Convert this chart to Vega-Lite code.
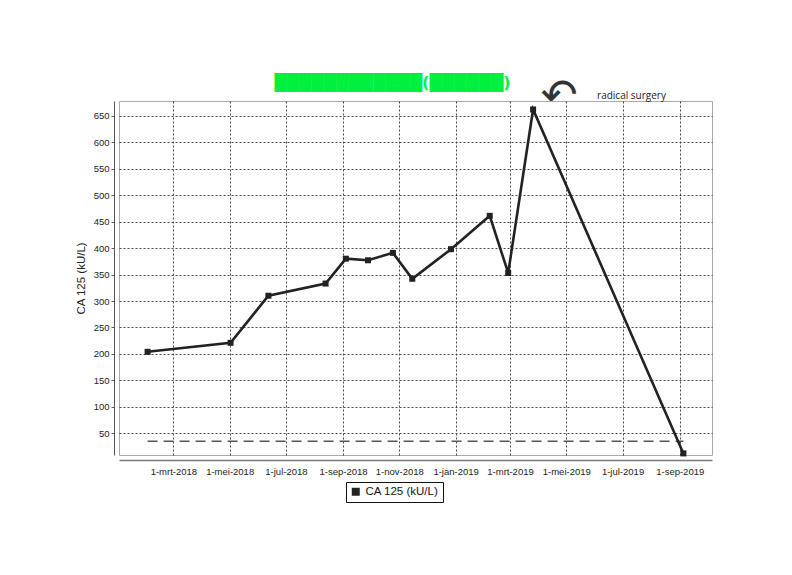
{
  "$schema": "https://vega.github.io/schema/vega-lite/v6.json",
  "width": 593,
  "height": 354,
  "autosize": {"type": "none"},
  "padding": {"left": 119, "top": 101, "right": 80, "bottom": 120},
  "background": "white",
  "title": {
    "text": "████████████(██████)",
    "color": "#00f040",
    "font": "DejaVu Sans",
    "fontSize": 16,
    "anchor": "middle",
    "dx": -23,
    "offset": -16,
    "frame": "group"
  },
  "datasets": {
    "ca125": [
      {"date": "2018-02-01", "value": 204, "series": "CA 125 (kU/L)"},
      {"date": "2018-05-02", "value": 221, "series": "CA 125 (kU/L)"},
      {"date": "2018-06-12", "value": 310, "series": "CA 125 (kU/L)"},
      {"date": "2018-08-13", "value": 333, "series": "CA 125 (kU/L)"},
      {"date": "2018-09-04", "value": 380, "series": "CA 125 (kU/L)"},
      {"date": "2018-09-28", "value": 377, "series": "CA 125 (kU/L)"},
      {"date": "2018-10-25", "value": 391, "series": "CA 125 (kU/L)"},
      {"date": "2018-11-15", "value": 342, "series": "CA 125 (kU/L)"},
      {"date": "2018-12-27", "value": 398, "series": "CA 125 (kU/L)"},
      {"date": "2019-02-07", "value": 461, "series": "CA 125 (kU/L)"},
      {"date": "2019-02-27", "value": 353, "series": "CA 125 (kU/L)"},
      {"date": "2019-03-26", "value": 662, "series": "CA 125 (kU/L)"},
      {"date": "2019-09-05", "value": 12, "series": "CA 125 (kU/L)"}
    ],
    "reference": [
      {"date": "2018-02-01", "value": 35},
      {"date": "2019-09-05", "value": 35}
    ],
    "notes": [
      {"date": "2019-03-26", "value": 662, "note": "radical surgery", "arrow": "↶"}
    ]
  },
  "encoding": {
    "x": {
      "field": "date",
      "type": "temporal",
      "scale": {
        "type": "utc",
        "domain": [
          {"year": 2018, "month": "jan", "date": 1, "utc": true},
          {"year": 2019, "month": "oct", "date": 6, "utc": true}
        ],
        "nice": false
      },
      "axis": {
        "title": null,
        "values": [
          {"year": 2018, "month": "mar", "date": 1, "utc": true},
          {"year": 2018, "month": "may", "date": 1, "utc": true},
          {"year": 2018, "month": "jul", "date": 1, "utc": true},
          {"year": 2018, "month": "sep", "date": 1, "utc": true},
          {"year": 2018, "month": "nov", "date": 1, "utc": true},
          {"year": 2019, "month": "jan", "date": 1, "utc": true},
          {"year": 2019, "month": "mar", "date": 1, "utc": true},
          {"year": 2019, "month": "may", "date": 1, "utc": true},
          {"year": 2019, "month": "jul", "date": 1, "utc": true},
          {"year": 2019, "month": "sep", "date": 1, "utc": true}
        ],
        "labelExpr": "utcdate(datum.value) + '-' + ['jan','feb','mrt','apr','mei','jun','jul','aug','sep','okt','nov','dec'][utcmonth(datum.value)] + '-' + utcyear(datum.value)",
        "offset": 5,
        "ticks": false,
        "labelPadding": 6,
        "domainColor": "#777",
        "domainWidth": 1.5,
        "labelFontSize": 9.5,
        "labelOverlap": false,
        "grid": true
      }
    },
    "y": {
      "field": "value",
      "type": "quantitative",
      "scale": {"domain": [9, 678], "nice": false, "zero": false},
      "axis": {
        "title": "CA 125 (kU/L)",
        "values": [50, 100, 150, 200, 250, 300, 350, 400, 450, 500, 550, 600, 650],
        "offset": 5,
        "tickSize": 3,
        "labelPadding": 2,
        "titlePadding": 7,
        "titleFontSize": 11.5,
        "titleFontWeight": "normal",
        "labelFontSize": 9.5,
        "domainColor": "#555",
        "tickColor": "#555",
        "grid": true
      }
    }
  },
  "layer": [
    {
      "data": {"name": "reference"},
      "mark": {"type": "line", "color": "#555", "strokeWidth": 1.3, "strokeDash": [10, 6]}
    },
    {
      "data": {"name": "ca125"},
      "mark": {"type": "line", "color": "#222", "strokeWidth": 2.6}
    },
    {
      "data": {"name": "ca125"},
      "mark": {"type": "point", "shape": "square", "filled": true, "size": 36, "opacity": 1},
      "encoding": {
        "color": {
          "field": "series",
          "type": "nominal",
          "scale": {"range": ["#222"]},
          "legend": {
            "title": null,
            "orient": "none",
            "legendX": 227,
            "legendY": 381,
            "symbolType": "square",
            "symbolSize": 64,
            "symbolOpacity": 1,
            "labelFontSize": 11.5,
            "labelFont": "Liberation Sans",
            "labelColor": "#111",
            "strokeColor": "#111",
            "padding": 4,
            "labelOffset": 4
          }
        }
      }
    },
    {
      "data": {"name": "notes"},
      "mark": {"type": "text", "align": "left", "baseline": "middle", "dx": 64, "dy": -13, "font": "Open Sans", "fontSize": 10, "color": "#222"},
      "encoding": {"text": {"field": "note"}}
    },
    {
      "data": {"name": "notes"},
      "mark": {"type": "text", "align": "center", "baseline": "middle", "dx": 26, "dy": -12, "font": "DejaVu Sans", "fontSize": 44, "color": "#333"},
      "encoding": {"text": {"field": "arrow"}}
    }
  ],
  "config": {
    "font": "Liberation Sans",
    "view": {"stroke": "#aaa", "strokeWidth": 1},
    "axis": {
      "labelFont": "Liberation Sans",
      "titleFont": "Liberation Sans",
      "labelColor": "#222",
      "titleColor": "#222",
      "gridColor": "#333",
      "gridDash": [2, 2],
      "gridWidth": 1,
      "gridOpacity": 0.9
    }
  }
}
